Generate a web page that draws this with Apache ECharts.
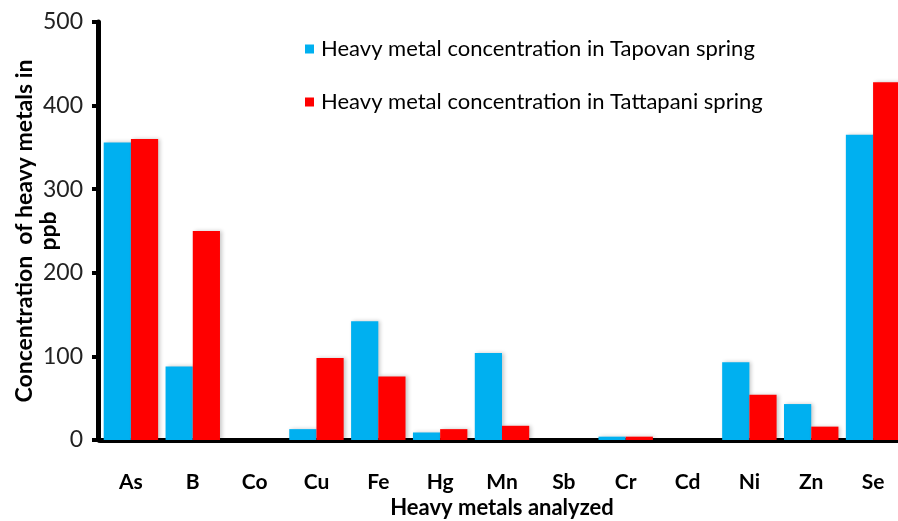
<!DOCTYPE html>
<html>
<head>
<meta charset="utf-8">
<script src="https://cdn.jsdelivr.net/npm/echarts@6/dist/echarts.min.js"></script>
<style>
  html, body { margin: 0; padding: 0; background: #fff; }
  #chart { width: 898px; height: 521px; }
</style>
</head>
<body>
<div id="chart"></div>
<script>
// metals on the x axis
var metals = ['As', 'B', 'Co', 'Cu', 'Fe', 'Hg', 'Mn', 'Sb', 'Cr', 'Cd', 'Ni', 'Zn', 'Se'];
// concentration (ppb)
var tapovan = [356, 88, 0, 13, 142, 9, 104, 0, 4, 0, 93, 43, 365];
var tattapani = [360, 250, 0, 98, 76, 13, 17, 0, 4, 0, 54, 16, 428];
var yTicks = [0, 100, 200, 300, 400, 500];

var chart = echarts.init(document.getElementById('chart'));

var barShadow = {
    shadowColor: 'rgba(0,0,0,0.22)',
    shadowBlur: 4,
    shadowOffsetX: 2
};

var option = {
    animation: false,
    textStyle: { fontFamily: 'Lato' },
    grid: { left: 100, right: -6, top: 22, bottom: 81, outerBoundsMode: 'none', containLabel: false },
    legend: {
        orient: 'vertical',
        left: 300,
        top: 33,
        itemWidth: 9,
        itemHeight: 9,
        itemGap: 31,
        icon: 'rect',
        textStyle: { fontSize: 22, color: '#000', fontFamily: 'Lato', padding: [0, 0, 0, 2] },
        data: ['Heavy metal concentration in Tapovan spring', 'Heavy metal concentration in Tattapani spring']
    },
    xAxis: {
        type: 'category',
        data: metals,
        name: 'Heavy metals analyzed',
        nameLocation: 'middle',
        nameGap: 57,
        nameMoveOverlap: false,
        nameTextStyle: { fontSize: 22, fontWeight: 'bold', color: '#000', padding: [0, 0, 0, 0] },
        axisLine: { lineStyle: { color: '#000', width: 5 } },
        axisTick: { show: false },
        axisLabel: { fontSize: 21, fontWeight: 'bold', color: '#000', margin: 32 }
    },
    yAxis: {
        type: 'value',
        offset: 2,
        min: 0,
        max: yTicks[yTicks.length - 1],
        interval: 100,
        name: 'Concentration  of heavy metals in\nppb',
        nameLocation: 'middle',
        nameGap: 37,
        nameMoveOverlap: false,
        nameTextStyle: { fontSize: 23, fontWeight: 'bold', color: '#000', lineHeight: 24 },
        axisLine: { show: true, lineStyle: { color: '#000', width: 5 } },
        axisTick: { show: true, length: 6, lineStyle: { color: '#000', width: 4 } },
        splitLine: { show: false },
        axisLabel: { fontSize: 23, color: '#222', margin: 15 }
    },
    series: [
        {
            name: 'Heavy metal concentration in Tapovan spring',
            type: 'bar',
            data: tapovan,
            barGap: '0%',
            barCategoryGap: '12%',
            itemStyle: Object.assign({ color: '#00B0F0' }, barShadow)
        },
        {
            name: 'Heavy metal concentration in Tattapani spring',
            type: 'bar',
            data: tattapani,
            barGap: '0%',
            barCategoryGap: '12%',
            itemStyle: Object.assign({ color: '#FF0000' }, barShadow)
        }
    ]
};

chart.setOption(option);
</script>
</body>
</html>
